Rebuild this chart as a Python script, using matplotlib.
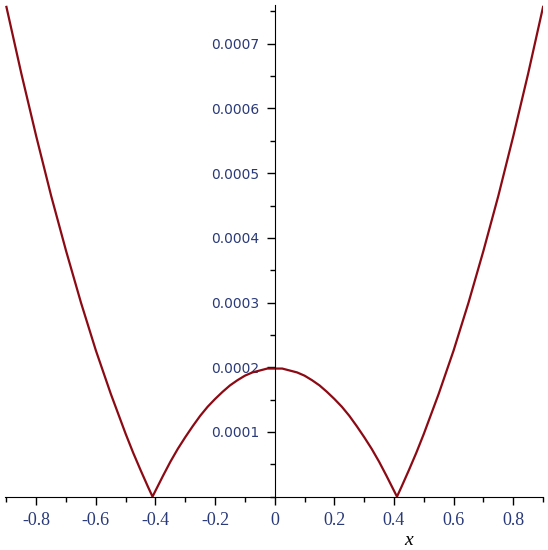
import matplotlib.pyplot as plt
from matplotlib.ticker import MultipleLocator

# values (left branch, arch, right branch)
x = [-0.90, -0.85, -0.80, -0.75, -0.70, -0.65, -0.60, -0.55, -0.50, -0.475,
     -0.45, -0.425, -0.41,
     -0.375, -0.35, -0.325, -0.30, -0.275, -0.25, -0.225, -0.20, -0.175,
     -0.15, -0.125, -0.10, -0.075, -0.05, -0.025, 0.00,
     0.025, 0.05, 0.075, 0.10, 0.125, 0.15, 0.175, 0.20, 0.225, 0.25,
     0.275, 0.30, 0.325, 0.35, 0.375,
     0.41, 0.425, 0.45, 0.475, 0.50, 0.55, 0.60, 0.65, 0.70, 0.75, 0.80,
     0.85, 0.90]
y = [0.000757, 0.000654, 0.000557, 0.000465, 0.000380, 0.000300, 0.000226,
     0.000159, 0.000097, 0.000068, 0.000041, 0.000015, 0.0,
     0.000032, 0.000054, 0.000074, 0.000092, 0.000109, 0.000125, 0.000139,
     0.000151, 0.000162, 0.000172, 0.000180, 0.000187, 0.000192, 0.000195,
     0.000198, 0.000198,
     0.000198, 0.000195, 0.000192, 0.000187, 0.000180, 0.000172, 0.000162,
     0.000151, 0.000139, 0.000125, 0.000109, 0.000092, 0.000074, 0.000054,
     0.000032,
     0.0, 0.000015, 0.000041, 0.000068, 0.000097, 0.000159, 0.000226,
     0.000300, 0.000380, 0.000465, 0.000557, 0.000654, 0.000757]

xticks = [-0.8, -0.6, -0.4, -0.2, 0, 0.2, 0.4, 0.6, 0.8]
xticklabels = ['-0.8', '-0.6', '-0.4', '-0.2', '0', '0.2', '0.4', '0.6', '0.8']
yticks = [0.0001, 0.0002, 0.0003, 0.0004, 0.0005, 0.0006, 0.0007]
yticklabels = ['0.0001', '0.0002', '0.0003', '0.0004', '0.0005', '0.0006', '0.0007']

fig = plt.figure(figsize=(5.48, 5.5), dpi=100)
ax = fig.add_axes([0.009, 0.097, 0.982, 0.894])

ax.plot(x, y, color='#8b0a14', lw=1.6)

ax.set_xlim(-0.905, 0.9)
ax.set_ylim(0, 0.00076)

ax.spines['left'].set_position(('data', 0))
ax.spines['bottom'].set_position(('data', 0))
ax.spines['right'].set_visible(False)
ax.spines['top'].set_visible(False)

ax.set_xticks(xticks)
ax.set_xticklabels(xticklabels, fontsize=13, family='Liberation Serif')
ax.set_yticks(yticks)
ax.set_yticklabels(yticklabels, fontsize=10, family='DejaVu Sans')
ax.xaxis.set_minor_locator(MultipleLocator(0.1))
ax.yaxis.set_minor_locator(MultipleLocator(0.00005))
ax.tick_params(which='major', length=6, width=1, color='black', labelcolor='#2a3a78')
ax.tick_params(which='minor', length=3.5, width=1, color='black')
ax.tick_params(axis='x', pad=5)
ax.tick_params(axis='y', pad=5)

ax.text(0.45, -0.000068, 'x', fontsize=14, style='italic', family='Liberation Serif',
        ha='center', va='center')

fig.savefig('out.png', dpi=100)
